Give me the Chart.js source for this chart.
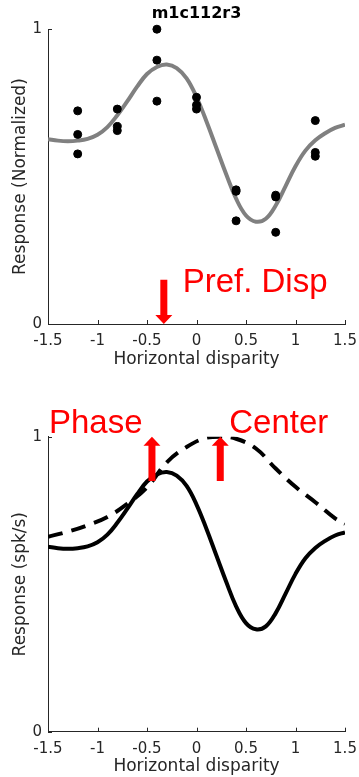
<!DOCTYPE html>
<html>
<head>
<meta charset="utf-8">
<script src="https://cdn.jsdelivr.net/npm/chart.js@4.4.1/dist/chart.umd.min.js"></script>
<style>
  body{margin:0;background:#fff;}
  canvas{display:block;}
</style>
</head>
<body>
<canvas id="topChart" width="359" height="388"></canvas>
<canvas id="bottomChart" width="359" height="389"></canvas>
<script>
/* ===============================
   DATA
================================ */
const xTicks = [-1.5, -1, -0.5, 0, 0.5, 1, 1.5];
const yTicks = [0, 1];

// measured disparities and the three repeats at each
const dispX  = [-1.2, -0.8, -0.4, 0, 0.4, 0.8, 1.2];
const trialA = [0.723, 0.729, 1.000, 0.769, 0.455, 0.437, 0.690];
const trialB = [0.643, 0.670, 0.895, 0.743, 0.450, 0.431, 0.582];
const trialC = [0.577, 0.656, 0.756, 0.729, 0.350, 0.311, 0.569];

// fitted tuning curve
const fitX = [-1.5,-1.4,-1.3,-1.2,-1.1,-1.0,-0.9,-0.8,-0.7,-0.6,-0.5,-0.4,-0.3,-0.2,-0.1,0,
              0.1,0.2,0.3,0.4,0.5,0.6,0.7,0.8,0.9,1.0,1.1,1.2,1.3,1.4,1.5];
const fitY = [0.627,0.622,0.620,0.622,0.628,0.642,0.668,0.708,0.755,0.805,0.848,0.872,0.880,0.868,0.833,0.770,
              0.688,0.598,0.508,0.425,0.368,0.347,0.357,0.402,0.468,0.535,0.588,0.623,0.647,0.665,0.676];

// gaussian envelope (dashed)
const envX = [-1.5,-1.3,-1.1,-0.9,-0.7,-0.5,-0.3,-0.1,0.1,0.24,0.4,0.6,0.8,1.0,1.2,1.4,1.5];
const envY = [0.661,0.678,0.700,0.728,0.772,0.828,0.913,0.965,0.997,1.0,0.993,0.960,0.892,0.830,0.778,0.723,0.705];

// annotation positions (disparity)
const prefDisp = -0.33;
const phaseDisp = -0.45;
const centerDisp = 0.24;

const toPts = (xs, ys) => xs.map((x,i)=>({x:x, y:ys[i]}));

const AXIS = "#262626";
const FONT = "'DejaVu Sans', sans-serif";

/* ===============================
   HELPERS
================================ */
function drawArrow(ctx, x, yFrom, yTo){
  // yTo is the tip
  const dir = yTo > yFrom ? 1 : -1;
  const headLen = 9, headW = 8.5, shaftW = 3.5;
  ctx.save();
  ctx.fillStyle = "#ff0000";
  ctx.beginPath();
  ctx.moveTo(x - shaftW, yFrom);
  ctx.lineTo(x + shaftW, yFrom);
  ctx.lineTo(x + shaftW, yTo - dir*headLen);
  ctx.lineTo(x + headW, yTo - dir*headLen);
  ctx.lineTo(x, yTo);
  ctx.lineTo(x - headW, yTo - dir*headLen);
  ctx.lineTo(x - shaftW, yTo - dir*headLen);
  ctx.closePath();
  ctx.fill();
  ctx.restore();
}

function redText(ctx, txt, x, y){
  ctx.save();
  ctx.fillStyle = "#ff0000";
  ctx.font = "33px 'Liberation Sans', Arial, sans-serif";
  ctx.textAlign = "left";
  ctx.textBaseline = "alphabetic";
  ctx.fillText(txt, x, y);
  ctx.restore();
}

// matlab style inward ticks
const inwardTicks = {
  id: "inwardTicks",
  afterDraw(chart){
    const {ctx, chartArea:a, scales:{x, y}} = chart;
    ctx.save();
    ctx.strokeStyle = AXIS;
    ctx.lineWidth = 1;
    ctx.beginPath();
    xTicks.forEach(v=>{
      const px = Math.round(x.getPixelForValue(v)) + 0.5;
      ctx.moveTo(px, a.bottom); ctx.lineTo(px, a.bottom - 4);
    });
    yTicks.forEach(v=>{
      const py = Math.round(y.getPixelForValue(v)) + 0.5;
      ctx.moveTo(a.left, py); ctx.lineTo(a.left + 4, py);
    });
    ctx.stroke();
    ctx.restore();
  }
};

function scalesFor(yTitle, xBoxH, xTitlePad){
  return {
    x:{
      type:"linear", min:-1.5, max:1.5,
      afterBuildTicks: s => { s.ticks = xTicks.map(v=>({value:v})); },
      afterFit: s => { s.height = xBoxH; s.paddingLeft = 0; s.paddingRight = 0; },
      grid:{display:true, drawOnChartArea:false, drawTicks:false},
      border:{display:true, color:AXIS, width:1},
      ticks:{color:AXIS, padding:8, font:{family:FONT, size:15}, callback:v=>String(v), maxRotation:0},
      title:{display:true, text:"Horizontal disparity", color:AXIS,
             font:{family:FONT, size:17}, padding:{top:0, bottom:xTitlePad}}
    },
    y:{
      type:"linear", min:0, max:1,
      afterBuildTicks: s => { s.ticks = yTicks.map(v=>({value:v})); },
      afterFit: s => { s.width = 48; s.paddingTop = 0; s.paddingBottom = 0; },
      grid:{display:true, drawOnChartArea:false, drawTicks:false},
      border:{display:true, color:AXIS, width:1},
      ticks:{color:AXIS, padding:6, font:{family:FONT, size:15}, callback:v=>String(v)},
      title:{display:true, text:yTitle, color:AXIS,
             font:{family:FONT, size:17}, padding:{top:10, bottom:0}}
    }
  };
}

/* ===============================
   TOP: data + fit
================================ */
const topNotes = {
  id:"topNotes",
  afterDraw(chart){
    const {ctx, scales:{x, y}} = chart;
    const px = x.getPixelForValue(prefDisp);
    drawArrow(ctx, px, y.getPixelForValue(0.15), y.getPixelForValue(0));
    redText(ctx, "Pref. Disp", x.getPixelForValue(-0.14), y.getPixelForValue(0.109));
  }
};

new Chart(document.getElementById("topChart"), {
  type:"scatter",
  data:{
    datasets:[
      {
        data: toPts(fitX, fitY),
        showLine:true,
        borderColor:"#808080",
        borderWidth:4,
        pointRadius:0,
        tension:0.4,
        order:2
      },
      {
        data: [...toPts(dispX, trialA), ...toPts(dispX, trialB), ...toPts(dispX, trialC)],
        backgroundColor:"#000",
        borderColor:"#000",
        pointRadius:4,
        clip:false,
        order:1
      }
    ]
  },
  options:{
    responsive:false,
    animation:false,
    layout:{padding:{left:0, right:14, top:0, bottom:0}},
    plugins:{
      legend:{display:false},
      tooltip:{enabled:false},
      title:{display:true, text:"m1c112r3", color:"#000", fullSize:false,
             font:{family:FONT, size:16, weight:"bold"}, padding:{top:4, bottom:6}}
    },
    scales: scalesFor("Response (Normalized)", 64, 18)
  },
  plugins:[inwardTicks, topNotes]
});

/* ===============================
   BOTTOM: fit + envelope
================================ */
const bottomNotes = {
  id:"bottomNotes",
  afterDraw(chart){
    const {ctx, scales:{x, y}} = chart;
    drawArrow(ctx, x.getPixelForValue(phaseDisp), y.getPixelForValue(0.85), y.getPixelForValue(1.0));
    drawArrow(ctx, x.getPixelForValue(centerDisp), y.getPixelForValue(0.85), y.getPixelForValue(1.0));
    redText(ctx, "Phase", x.getPixelForValue(-1.49), y.getPixelForValue(1.0115));
    redText(ctx, "Center", x.getPixelForValue(0.331), y.getPixelForValue(1.0125));
  }
};

new Chart(document.getElementById("bottomChart"), {
  type:"scatter",
  data:{
    datasets:[
      {
        data: toPts(envX, envY),
        showLine:true,
        borderColor:"#000",
        borderWidth:4,
        borderDash:[15,9],
        pointRadius:0,
        tension:0.4
      },
      {
        data: toPts(fitX, fitY),
        showLine:true,
        borderColor:"#000",
        borderWidth:4,
        pointRadius:0,
        tension:0.4
      }
    ]
  },
  options:{
    responsive:false,
    animation:false,
    layout:{padding:{left:0, right:14, top:48.7, bottom:0}},
    plugins:{legend:{display:false}, tooltip:{enabled:false}},
    scales: scalesFor("Response (spk/s)", 45.3, 0.5)
  },
  plugins:[inwardTicks, bottomNotes]
});
</script>
</body>
</html>
